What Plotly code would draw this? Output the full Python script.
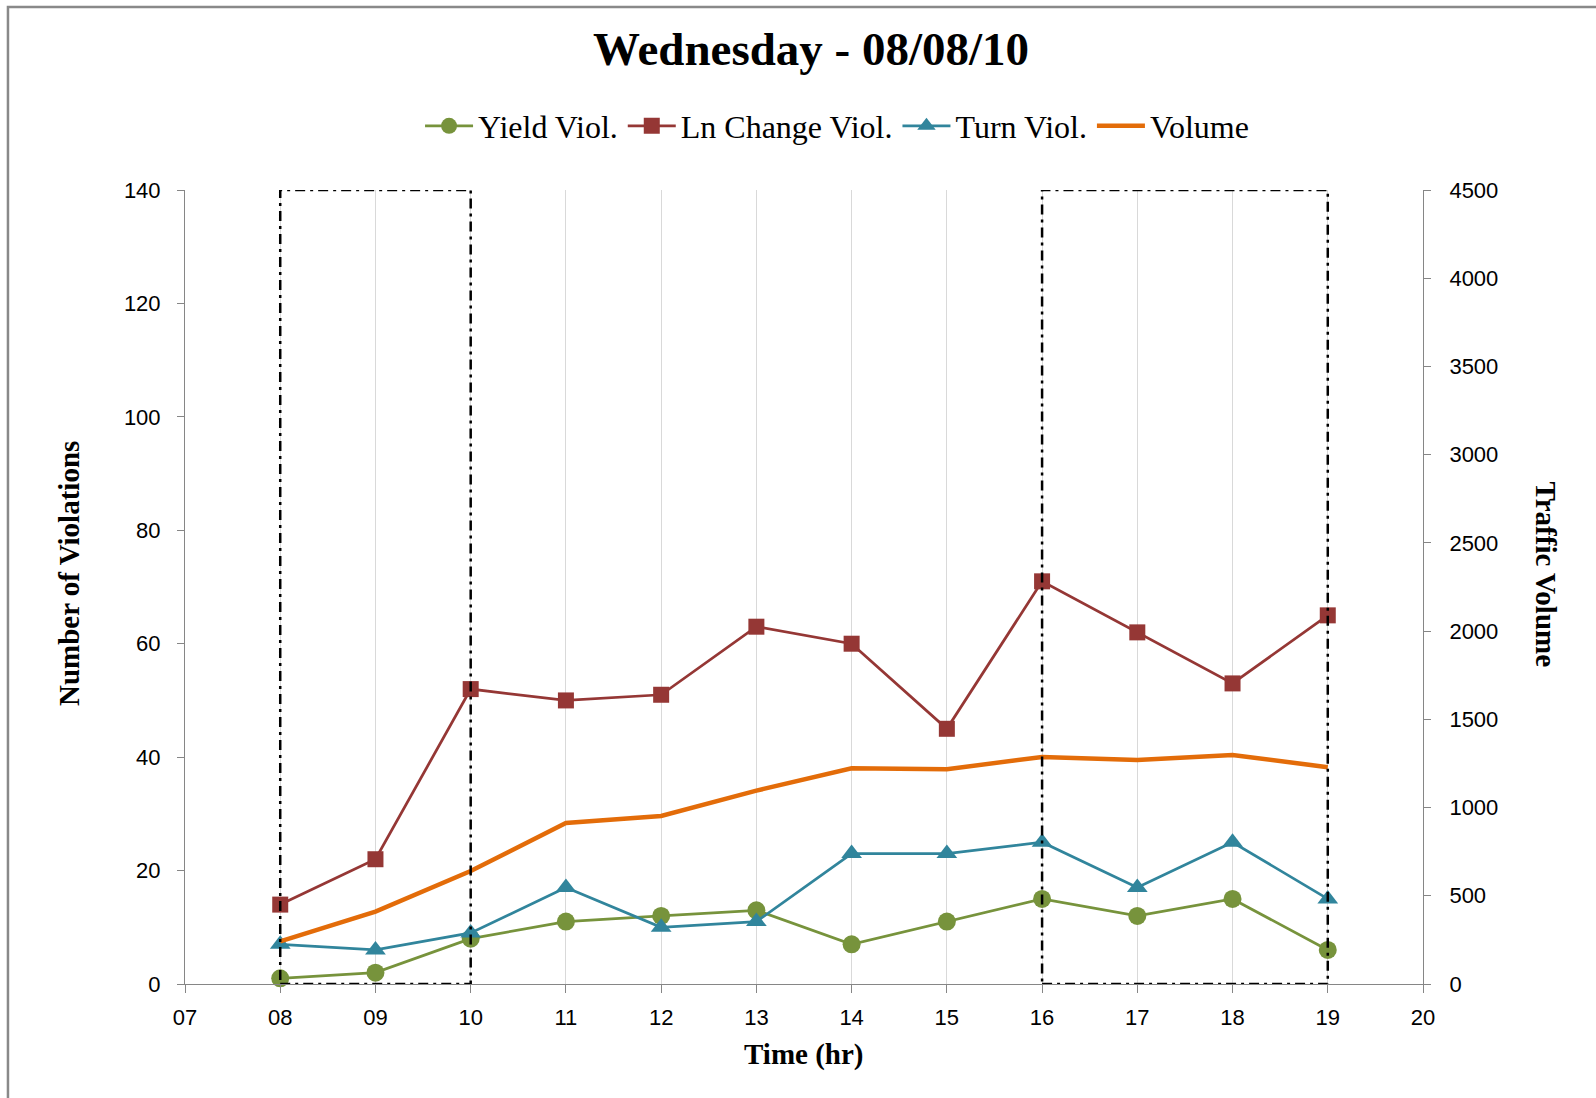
import plotly.graph_objects as go

# ---- data ----
hours = [8, 9, 10, 11, 12, 13, 14, 15, 16, 17, 18, 19]
yield_viol = [1, 2, 8, 11, 12, 13, 7, 11, 15, 12, 15, 6]
ln_change_viol = [14, 22, 52, 50, 51, 63, 60, 45, 71, 62, 53, 65]
turn_viol = [7, 6, 9, 17, 10, 11, 23, 23, 25, 17, 25, 15]
volume = [242, 410, 640, 912, 952, 1096, 1223, 1217, 1287, 1269, 1298, 1229]

x_tickvals = list(range(7, 21))
x_ticktext = ["07", "08", "09", "10", "11", "12", "13", "14", "15", "16", "17", "18", "19", "20"]
highlight_windows = [(8, 10), (16, 19)]

title_text = "Wednesday - 08/08/10"

# ---- styles ----
SERIF = "Liberation Serif"
SANS = "Liberation Sans"
AXIS_GRAY = "#868686"

fig = go.Figure()

fig.add_trace(go.Scatter(
    x=hours, y=yield_viol, name="Yield Viol.", mode="lines+markers",
    line=dict(color="#77933C", width=2.75),
    marker=dict(symbol="circle", size=18, color="#77933C"),
    cliponaxis=False,
))
fig.add_trace(go.Scatter(
    x=hours, y=ln_change_viol, name="Ln Change Viol.", mode="lines+markers",
    line=dict(color="#953735", width=2.75),
    marker=dict(symbol="square", size=16, color="#953735"),
    cliponaxis=False,
))
fig.add_trace(go.Scatter(
    x=hours, y=turn_viol, name="Turn Viol.", mode="lines+markers",
    line=dict(color="#31859C", width=2.75),
    marker=dict(symbol="triangle-up", size=18, color="#31859C"),
    cliponaxis=False,
))
fig.add_trace(go.Scatter(
    x=hours, y=volume, name="Volume", mode="lines", yaxis="y2",
    line=dict(color="#E36C09", width=4.5),
    cliponaxis=False,
))

shapes = []
for (x0, x1) in highlight_windows:
    shapes.append(dict(
        type="rect", xref="x", yref="y", x0=x0, x1=x1, y0=0, y1=140,
        line=dict(color="black", width=2.5, dash="10px,5px,3px,5px"),
        fillcolor="rgba(0,0,0,0)", layer="above",
    ))
# outer chart border (top and left edges visible)
shapes.append(dict(
    type="path", xref="paper", yref="paper",
    path="M -0.143,-0.2 L -0.143,1.2305 L 1.2,1.2305",
    line=dict(color="#898989", width=2.5),
))

annotations = [
    dict(text="<b>" + title_text + "</b>", xref="paper", yref="paper",
         x=0.5057, y=1.1776, showarrow=False, xanchor="center", yanchor="middle",
         font=dict(family=SERIF, size=47, color="black")),
    dict(text="<b>Number of Violations</b>", xref="paper", yref="paper",
         x=-0.0937, y=0.5176, showarrow=False, textangle=-90,
         xanchor="center", yanchor="middle",
         font=dict(family=SERIF, size=29, color="black")),
    dict(text="<b>Traffic Volume</b>", xref="paper", yref="paper",
         x=1.0994, y=0.5156, showarrow=False, textangle=90,
         xanchor="center", yanchor="middle",
         font=dict(family=SERIF, size=29, color="black")),
    dict(text="<b>Time (hr)</b>", xref="paper", yref="paper",
         x=0.4992, y=-0.0889, showarrow=False,
         xanchor="center", yanchor="middle",
         font=dict(family=SERIF, size=29, color="black")),
]

fig.update_layout(
    width=1596, height=1098,
    margin=dict(l=185, r=173, t=190, b=114),
    paper_bgcolor="white", plot_bgcolor="white",
    showlegend=True,
    legend=dict(
        orientation="h", x=0.5267, y=1.0806, xanchor="center", yanchor="middle",
        font=dict(family=SERIF, size=32, color="black"),
        itemwidth=48, traceorder="normal", bgcolor="rgba(0,0,0,0)",
    ),
    xaxis=dict(
        range=[7, 20], tickmode="array", tickvals=x_tickvals, ticktext=x_ticktext,
        showgrid=True, gridcolor="#d9d9d9", gridwidth=1,
        showline=True, linecolor=AXIS_GRAY, linewidth=1,
        ticks="outside", ticklen=8, tickcolor=AXIS_GRAY,
        tickfont=dict(family=SANS, size=22, color="black"),
        zeroline=False, ticklabelstandoff=6,
    ),
    yaxis=dict(
        range=[0, 140], dtick=20, tick0=0,
        showgrid=False, zeroline=False,
        showline=True, linecolor=AXIS_GRAY, linewidth=1,
        ticks="outside", ticklen=7, tickcolor=AXIS_GRAY,
        tickfont=dict(family=SANS, size=22, color="black"),
        ticklabelstandoff=12,
    ),
    yaxis2=dict(
        range=[0, 4500], dtick=500, tick0=0, overlaying="y", side="right",
        showgrid=False, zeroline=False,
        showline=True, linecolor=AXIS_GRAY, linewidth=1,
        ticks="outside", ticklen=7, tickcolor=AXIS_GRAY,
        tickfont=dict(family=SANS, size=22, color="black"),
        ticklabelstandoff=14,
    ),
    shapes=shapes,
    annotations=annotations,
)

fig.write_html("out.html", config={"displayModeBar": False},
               post_script="document.body.style.margin='0';document.body.style.overflow='hidden';")
